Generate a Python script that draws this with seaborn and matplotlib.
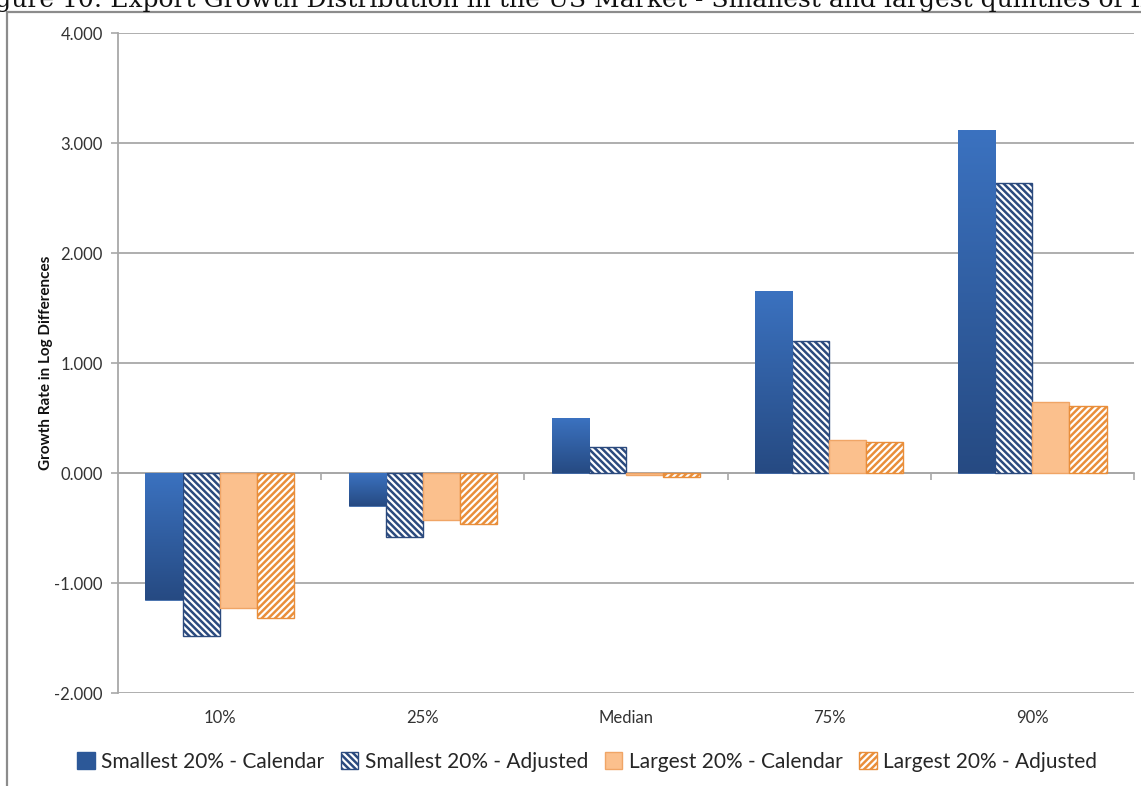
import numpy as np
import pandas as pd
import matplotlib
matplotlib.use("Agg")
import matplotlib.pyplot as plt
from matplotlib.patches import Patch
from matplotlib.lines import Line2D
from matplotlib import font_manager
import seaborn as sns

# ---- data -------------------------------------------------------------
categories = ["10%", "25%", "Median", "75%", "90%"]
series_names = [
    "Smallest 20% - Calendar",
    "Smallest 20% - Adjusted",
    "Largest 20% - Calendar",
    "Largest 20% - Adjusted",
]
smallest_calendar = [-1.155, -0.300, 0.500, 1.657, 3.118]
smallest_adjusted = [-1.480, -0.580, 0.236, 1.200, 2.633]
largest_calendar = [-1.230, -0.430, -0.020, 0.297, 0.643]
largest_adjusted = [-1.320, -0.460, -0.040, 0.285, 0.606]
y_ticks = [-2, -1, 0, 1, 2, 3, 4]

series_values = [smallest_calendar, smallest_adjusted, largest_calendar, largest_adjusted]
df = pd.DataFrame(
    [(c, s, v) for s, vals in zip(series_names, series_values) for c, v in zip(categories, vals)],
    columns=["Percentile", "Series", "Growth"],
)

# ---- fonts ------------------------------------------------------------
available = {f.name for f in font_manager.fontManager.ttflist}
body = "Lato" if "Lato" in available else "DejaVu Sans"

sns.set_theme(style="white")
plt.rcParams["font.family"] = [body, "DejaVu Sans"]
plt.rcParams["hatch.linewidth"] = 1.8

W, H = 1141, 786
fig = plt.figure(figsize=(W / 100, H / 100), dpi=100)
fig.patch.set_facecolor("white")

left, right, top, bottom = 118, 1134, 33, 693
ax = fig.add_axes([left / W, 1 - bottom / H, (right - left) / W, (bottom - top) / H])

sns.barplot(data=df, x="Percentile", y="Growth", hue="Series", order=categories,
            hue_order=series_names, width=0.73, ax=ax, legend=False, errorbar=None)

# ---- bar styling -------------------------------------------------------
blue_hatch = "#2B4A7E"
blue_rim = "#8BA5CF"
orange_face = "#FBC08D"
orange_edge = "#F0A566"
orange_hatch = "#E98E3A"
blue_pattern = "\\" * 5
orange_pattern = "/" * 5


def style_hatched(patch, pattern, stripe, rim):
    patch.set_facecolor("white")
    patch.set_hatch(pattern)
    if hasattr(patch, "set_hatchcolor"):
        patch.set_hatchcolor(stripe)
        patch.set_edgecolor(rim)
    else:
        patch.set_edgecolor(stripe)


grad = np.linspace(0, 1, 256).reshape(-1, 1)
blue_cmap = matplotlib.colors.LinearSegmentedColormap.from_list("bl", ["#264A82", "#3B72C0"])

for i, cont in enumerate(ax.containers):
    for bar in cont:
        x0, y0 = bar.get_x(), bar.get_y()
        w, h = bar.get_width(), bar.get_height()
        if i == 0:
            bar.set_facecolor("#2F5EA3")
            bar.set_edgecolor("#2F5EA3")
            bar.set_linewidth(0.5)
            lo, hi = min(y0, y0 + h), max(y0, y0 + h)
            # darker at the bottom of each column, lighter at the top
            im = ax.imshow(grad, aspect="auto", cmap=blue_cmap, origin="lower",
                           extent=(x0, x0 + w, lo, hi), zorder=bar.get_zorder() + 0.1)
            im.set_clip_path(bar)
        elif i == 1:
            style_hatched(bar, blue_pattern, blue_hatch, blue_rim)
            bar.set_linewidth(1.0)
        elif i == 2:
            bar.set_facecolor(orange_face)
            bar.set_edgecolor(orange_edge)
            bar.set_linewidth(1.0)
        else:
            style_hatched(bar, orange_pattern, orange_hatch, orange_edge)
            bar.set_linewidth(1.0)

# ---- axes --------------------------------------------------------------
ax.set_xlim(-0.5, len(categories) - 0.5)
ax.set_ylim(-2, 4)
ax.set_yticks(y_ticks)
ax.set_yticklabels([f"{t:.3f}" for t in y_ticks], fontsize=12, color="#333333")
ax.yaxis.grid(True, color="#A8A8A8", linewidth=1.3)
ax.set_axisbelow(True)
for s in ["top", "right", "bottom"]:
    ax.spines[s].set_visible(False)
ax.spines["left"].set_color("#A8A8A8")
ax.spines["left"].set_linewidth(1.3)
ax.tick_params(axis="y", left=True, length=5, width=1.2, color="#A8A8A8", pad=6)
ax.tick_params(axis="x", bottom=False, length=0, pad=12, labelsize=12, labelcolor="#333333")
ax.set_xlabel("")
ax.set_ylabel("Growth Rate in Log Differences", fontsize=11, fontweight="bold",
              color="#111111", labelpad=1)

# category axis crossing at zero, with boundary ticks
zero_axis = ax.secondary_xaxis(2 / 6)
zero_axis.set_xticks(np.arange(len(categories)) + 0.5)
zero_axis.set_xticklabels([])
zero_axis.tick_params(axis="x", direction="out", length=5, width=1.2, color="#A8A8A8")
zero_axis.spines["bottom"].set_color("#A8A8A8")
zero_axis.spines["bottom"].set_linewidth(1.3)

# ---- legend ------------------------------------------------------------
h_blue_adj = Patch()
style_hatched(h_blue_adj, blue_pattern, blue_hatch, blue_rim)
h_orange_adj = Patch()
style_hatched(h_orange_adj, orange_pattern, orange_hatch, orange_edge)
handles = [
    Patch(facecolor="#2C5898", edgecolor="#2C5898"),
    h_blue_adj,
    Patch(facecolor=orange_face, edgecolor=orange_edge),
    h_orange_adj,
]
fig.legend(handles, series_names, loc="center", bbox_to_anchor=(587 / W, 1 - 762 / H),
           ncol=4, frameon=False, prop={"family": [body, "DejaVu Sans"], "size": 15},
           handlelength=0.85, handleheight=0.85, handletextpad=0.3, columnspacing=0.8)

# ---- frame and heading -------------------------------------------------
fig.add_artist(Line2D([7 / W, 1], [1 - 12 / H, 1 - 12 / H], transform=fig.transFigure,
                      color="#8C8C8C", linewidth=1.6))
fig.add_artist(Line2D([7 / W, 7 / W], [0, 1 - 12 / H], transform=fig.transFigure,
                      color="#8C8C8C", linewidth=1.6))
fig.text(-30 / W, 1 - 7 / H,
         "Figure 10: Export Growth Distribution in the US Market - Smallest and largest quintiles of firms",
         family=["DejaVu Serif"], fontsize=18, va="baseline", ha="left", color="#111111")

fig.savefig("out.png", dpi=100, facecolor="white")
